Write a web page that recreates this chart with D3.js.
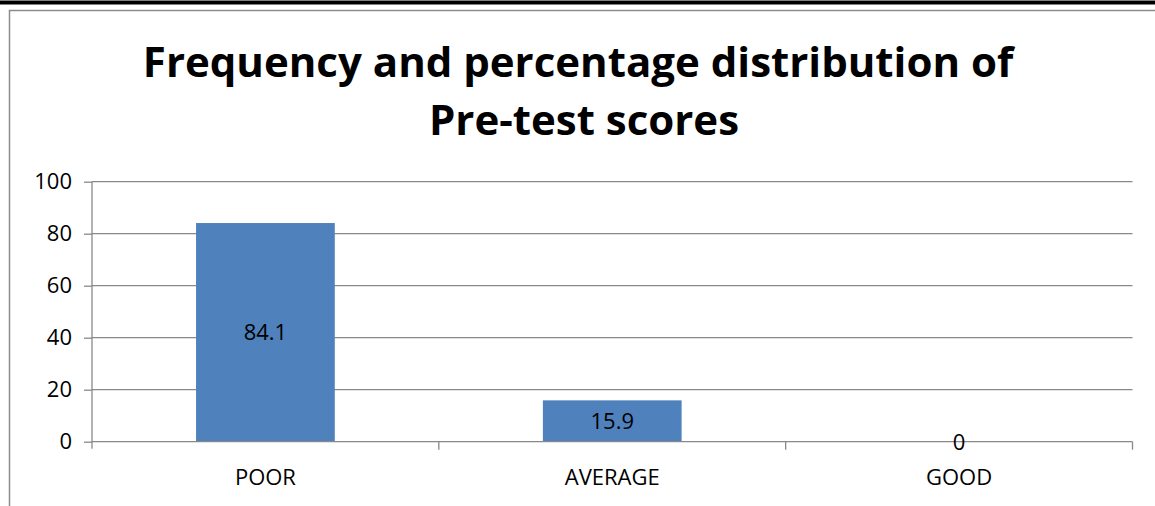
<!DOCTYPE html>
<html>
<head>
<meta charset="utf-8">
<script src="https://cdn.jsdelivr.net/npm/d3@7"></script>
<style>
  body { margin: 0; background: #fff; }
  svg { display: block; font-family: "Open Sans", sans-serif; }
</style>
</head>
<body>
<div class="chart"></div>
<script>
const categories = ["POOR", "AVERAGE", "GOOD"];
const values = [84.1, 15.9, 0];
const yTicks = [0, 20, 40, 60, 80, 100];
const titleLines = ["Frequency and percentage distribution of", "Pre-test scores"];

const W = 1155, H = 506;
const margin = { top: 181.7, right: 22.5, bottom: 64.3, left: 92 };
const width = W - margin.left - margin.right,
  height = H - margin.top - margin.bottom;

const svg = d3
  .select(".chart")
  .append("svg")
  .attr("width", W)
  .attr("height", H);

// page rule + chart frame
svg.append("rect").attr("x", 0).attr("y", 0.5).attr("width", W).attr("height", 4).attr("fill", "#000");
svg.append("path")
  .attr("d", `M9.5,${H} V10.5 H${W}`)
  .attr("fill", "none")
  .attr("stroke", "#8c8c8c")
  .attr("stroke-width", 1.5);

const title = svg.append("text")
  .attr("text-anchor", "middle")
  .attr("font-weight", "bold")
  .attr("font-size", 42)
  .attr("fill", "#000");
title.selectAll("tspan")
  .data(titleLines)
  .enter()
  .append("tspan")
  .attr("x", (d, i) => (i === 0 ? 578 : 584))
  .attr("y", (d, i) => 77 + i * 58)
  .text((d) => d);

const g = svg.append("g")
  .attr("transform", "translate(" + margin.left + "," + margin.top + ")");

const x = d3.scaleBand().domain(categories).range([0, width]).paddingInner(0.6).paddingOuter(0.3);
const xb = d3.scaleBand().domain(categories).range([0, width]);
const y = d3.scaleLinear().domain([0, 100]).range([height, 0]);

// gridlines
g.selectAll(".grid")
  .data(yTicks.filter((d) => d > 0))
  .enter()
  .append("line")
  .attr("x1", 0)
  .attr("x2", width)
  .attr("y1", (d) => y(d))
  .attr("y2", (d) => y(d))
  .attr("stroke", "#898989")
  .attr("stroke-width", 1.3);

// bars
g.selectAll(".bar")
  .data(values)
  .enter()
  .append("rect")
  .attr("x", (d, i) => x(categories[i]))
  .attr("width", x.bandwidth())
  .attr("y", (d) => y(d))
  .attr("height", (d) => height - y(d))
  .attr("fill", "#4f81bd");

// y axis
const yAxis = g.append("g")
  .call(d3.axisLeft(y).tickValues(yTicks).tickSize(8).tickPadding(12));
yAxis.select(".domain").attr("stroke", "#898989").attr("stroke-width", 1.3).attr("d", `M0,${height + 7}V0`);
yAxis.selectAll(".tick line").attr("stroke", "#898989").attr("stroke-width", 1.3);
yAxis.selectAll(".tick text").attr("font-size", 22).attr("fill", "#000").attr("font-family", "Open Sans");

// x axis with ticks at category boundaries
const xAxis = g.append("g").attr("transform", "translate(0," + height + ")");
xAxis.append("line").attr("x1", 0).attr("x2", width).attr("stroke", "#898989").attr("stroke-width", 1.3);
xAxis.selectAll(".xtick")
  .data(categories.slice(1).concat(["end"]))
  .enter()
  .append("line")
  .attr("x1", (d, i) => (i + 1) * xb.bandwidth())
  .attr("x2", (d, i) => (i + 1) * xb.bandwidth())
  .attr("y1", 0)
  .attr("y2", 8)
  .attr("stroke", "#898989")
  .attr("stroke-width", 1.3);
xAxis.selectAll(".xlabel")
  .data(categories)
  .enter()
  .append("text")
  .attr("x", (d) => xb(d) + xb.bandwidth() / 2)
  .attr("y", 43)
  .attr("text-anchor", "middle")
  .attr("font-size", 22)
  .text((d) => d);

// value labels
g.selectAll(".val")
  .data(values)
  .enter()
  .append("text")
  .attr("x", (d, i) => x(categories[i]) + x.bandwidth() / 2)
  .attr("y", (d) => (y(d) + height) / 2)
  .attr("dy", "0.36em")
  .attr("text-anchor", "middle")
  .attr("font-size", 22)
  .text((d) => d);
</script>
</body>
</html>
